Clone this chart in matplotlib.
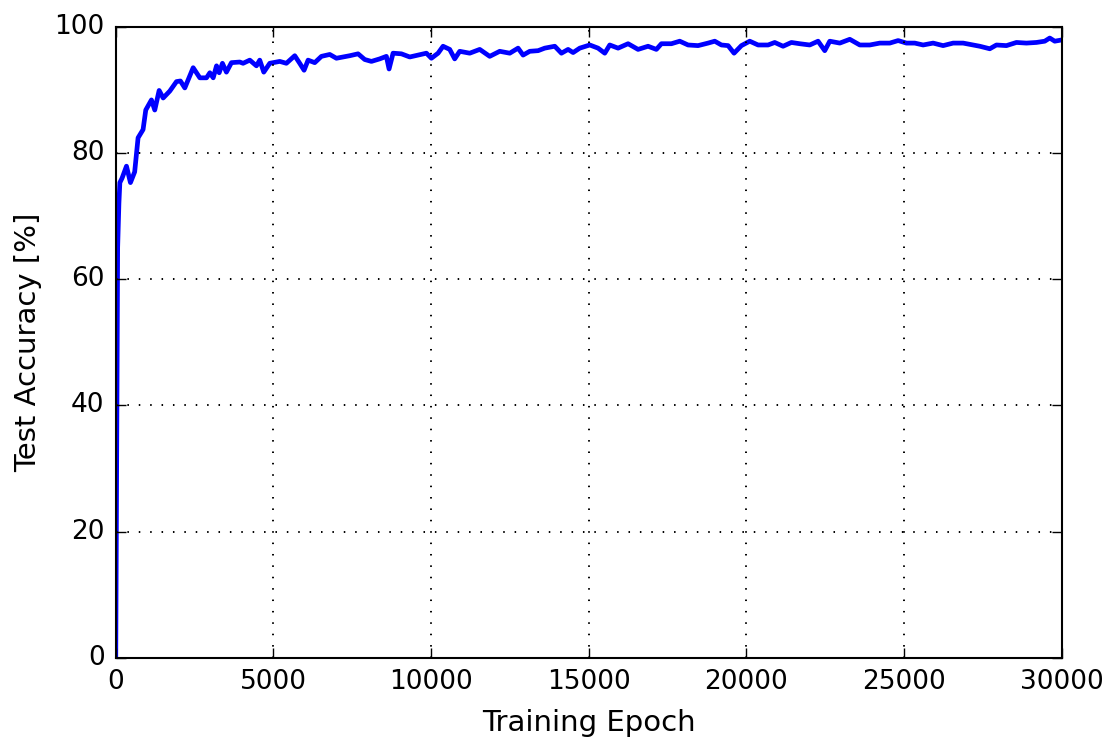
import numpy as np
import matplotlib
matplotlib.use('Agg')
import matplotlib.pyplot as plt

# values
epochs = [0, 60, 100, 130, 200, 340, 466, 600, 708, 866, 952, 1132, 1237, 1376, 1503,
          1714, 1926, 2050, 2190, 2455, 2666, 2878, 2984, 3090, 3196, 3280, 3383, 3509,
          3668, 3932, 4038, 4250, 4461, 4566, 4694, 4884, 5095, 5200, 5411, 5676, 5834,
          5972, 6099, 6310, 6522, 6786, 6997, 7420, 7684, 7895, 8107, 8371, 8582, 8667,
          8794, 9058, 9323, 9587, 9851, 10010, 10221, 10379, 10590, 10749, 10907, 11225,
          11542, 11859, 12176, 12494, 12758, 12917, 13128, 13393, 13604, 13921, 14133,
          14344, 14503, 14714, 15031, 15295, 15507, 15665, 15929, 16246, 16563, 16880,
          17144, 17303, 17620, 17884, 18149, 18466, 18783, 18995, 19206, 19418, 19607,
          19840, 20104, 20369, 20686, 20897, 21161, 21425, 21690, 22007, 22271, 22483,
          22642, 22960, 23277, 23594, 23911, 24228, 24545, 24810, 25074, 25338, 25602,
          25919, 26236, 26554, 26871, 27188, 27399, 27716, 27927, 28244, 28561, 28878,
          29195, 29459, 29618, 29776, 30000]
accuracy = [0.0, 65.0, 72.0, 75.3, 76.0, 77.9, 75.3, 77.0, 82.4, 83.7, 86.8, 88.4, 86.8,
            89.9, 88.7, 89.8, 91.3, 91.4, 90.3, 93.5, 91.9, 91.9, 92.7, 91.9, 93.8, 92.7,
            94.2, 92.8, 94.3, 94.4, 94.2, 94.7, 93.8, 94.7, 92.8, 94.2, 94.4, 94.5, 94.2,
            95.4, 94.2, 93.1, 94.7, 94.3, 95.3, 95.6, 95.0, 95.4, 95.7, 94.8, 94.5, 94.9,
            95.3, 93.3, 95.8, 95.7, 95.2, 95.5, 95.8, 95.0, 95.8, 96.9, 96.4, 94.9, 96.1,
            95.8, 96.4, 95.3, 96.1, 95.8, 96.6, 95.5, 96.1, 96.2, 96.6, 96.9, 95.8, 96.4,
            95.9, 96.6, 97.1, 96.6, 95.8, 97.1, 96.6, 97.3, 96.4, 96.9, 96.4, 97.3, 97.3,
            97.7, 97.1, 97.0, 97.4, 97.7, 97.1, 97.0, 95.8, 97.0, 97.7, 97.1, 97.1, 97.5,
            96.9, 97.5, 97.3, 97.1, 97.7, 96.2, 97.7, 97.4, 98.0, 97.1, 97.1, 97.4, 97.4,
            97.8, 97.4, 97.4, 97.1, 97.4, 97.0, 97.4, 97.4, 97.1, 96.9, 96.5, 97.1, 97.0,
            97.5, 97.4, 97.5, 97.7, 98.2, 97.7, 97.9]

plt.style.use('classic')
plt.rcParams['font.size'] = 19

fig = plt.figure(figsize=(11.13, 7.41), dpi=100, facecolor='white')
ax = fig.add_axes([0.104, 0.112, 0.850, 0.852])
ax.plot(epochs, accuracy, color='b', linewidth=3.4)
ax.set_xlim(0, 30000)
ax.set_ylim(0, 100)
ax.set_xticks(np.arange(0, 30001, 5000))
ax.set_yticks(np.arange(0, 101, 20))
ax.grid(True, color='k', linestyle=(0, (1.1, 7.1)), linewidth=1.4)
ax.tick_params(which='major', length=7, width=1, pad=8, labelsize=19)
ax.set_xlabel('Training Epoch', fontsize=21, labelpad=10)
ax.set_ylabel('Test Accuracy [%]', fontsize=21, labelpad=9)
for sp in ax.spines.values():
    sp.set_linewidth(1.5)

fig.savefig('out.png', dpi=100, facecolor='white')
